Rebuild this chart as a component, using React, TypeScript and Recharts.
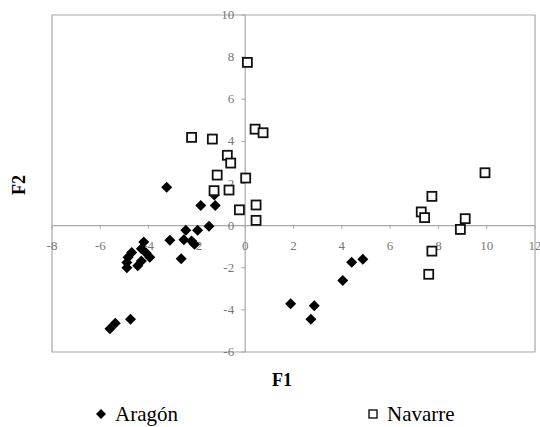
import { ScatterChart, Scatter, XAxis, YAxis, ReferenceLine, ReferenceArea, ReferenceDot } from 'recharts';

// F1 / F2 scores
const aragonF1 = [-3.25, -1.28, -1.84, -1.24, -1.5, -1.97, -2.46, -3.12, -2.54, -2.22, -2.1, -2.65,
  -4.2, -4.3, -4.7, -4.85, -4.9, -4.9, -4.45, -4.3, -3.95, -4.1,
  -5.6, -5.38, -4.75,
  1.88, 2.86, 2.72, 4.04, 4.41, 4.87];
const aragonF2 = [1.82, 1.45, 0.96, 0.96, -0.03, -0.22, -0.22, -0.7, -0.67, -0.73, -0.88, -1.57,
  -0.78, -1.1, -1.28, -1.5, -1.75, -2.0, -1.9, -1.68, -1.5, -1.3,
  -4.9, -4.64, -4.44,
  -3.71, -3.8, -4.44, -2.6, -1.74, -1.6];

const navarreF1 = [0.09, 0.41, 0.74, -2.22, -1.36, -0.74, -0.6, -1.16, 0.02, -1.29, -0.67, 0.45, -0.24, 0.45,
  9.93, 7.73, 7.29, 7.43, 9.11, 8.91, 7.73, 7.6];
const navarreF2 = [7.75, 4.58, 4.41, 4.19, 4.11, 3.34, 2.97, 2.4, 2.26, 1.66, 1.69, 0.98, 0.75, 0.25,
  2.51, 1.39, 0.65, 0.38, 0.33, -0.18, -1.21, -2.31];

const xTicks = [-8, -6, -4, -2, 0, 2, 4, 6, 8, 10, 12];
const yTicks = [-6, -4, -2, 0, 2, 4, 6, 8, 10];

const aragon = aragonF1.map((x, i) => ({ x, y: aragonF2[i] }));
const navarre = navarreF1.map((x, i) => ({ x, y: navarreF2[i] }));

const serif = 'Liberation Serif, serif';
const axisGray = '#a8a8a8';
const labelGray = '#777';

const Diamond = ({ cx, cy }: any) => (
  <polygon points={`${cx},${cy - 5.5} ${cx + 5.5},${cy} ${cx},${cy + 5.5} ${cx - 5.5},${cy}`} fill="#000" />
);

const Square = ({ cx, cy }: any) => (
  <rect x={cx - 4.5} y={cy - 4.5} width={9} height={9} fill="#fff" stroke="#111" strokeWidth={1.8} />
);

const XTick = (value: number) => ({ cx, cy }: any) => (
  <g>
    <line x1={cx} y1={cy} x2={cx} y2={cy + 3} stroke={axisGray} />
    <text x={cx} y={cy + 24} textAnchor="middle" style={{ fontFamily: serif, fontSize: 13, fill: labelGray }}>{value}</text>
  </g>
);

const YTick = (value: number) => ({ cx, cy }: any) => (
  <g>
    <line x1={cx - 4} y1={cy} x2={cx} y2={cy} stroke={axisGray} />
    <text x={cx - 11} y={cy + 4} textAnchor="end" style={{ fontFamily: serif, fontSize: 13, fill: labelGray }}>{value}</text>
  </g>
);

export default function App() {
  return (
    <div style={{ position: 'absolute', left: 0, top: 0, width: 540, height: 427, background: '#fff', fontFamily: serif }}>
      <ScatterChart width={540} height={427} margin={{ top: 15, right: 5, bottom: 75, left: 52 }}>
        <XAxis type="number" dataKey="x" domain={[-8, 12]} ticks={xTicks} hide />
        <YAxis type="number" dataKey="y" domain={[-6, 10]} ticks={yTicks} hide />
        <ReferenceArea x1={-8} x2={12} y1={-6} y2={10} fill="none" stroke={axisGray} strokeWidth={1.2} />
        <ReferenceLine x={0} stroke={axisGray} strokeWidth={1.2} />
        <ReferenceLine y={0} stroke={axisGray} strokeWidth={1.2} />
        {xTicks.map((t) => (
          <ReferenceDot key={'x' + t} x={t} y={0} r={0} shape={XTick(t)} ifOverflow="visible" />
        ))}
        {yTicks.map((t) => (
          <ReferenceDot key={'y' + t} x={0} y={t} r={0} shape={YTick(t)} ifOverflow="visible" />
        ))}
        <Scatter name="Aragón" data={aragon} shape={<Diamond />} isAnimationActive={false} />
        <Scatter name="Navarre" data={navarre} shape={<Square />} isAnimationActive={false} />
      </ScatterChart>

      {/* axis titles */}
      <div style={{ position: 'absolute', left: 272, top: 370, fontFamily: serif, fontSize: 18, fontWeight: 'bold' }}>F1</div>
      <div style={{ position: 'absolute', left: 4, top: 170, width: 30, height: 30, fontFamily: serif, fontSize: 18, fontWeight: 'bold', transform: 'rotate(-90deg)', textAlign: 'center', lineHeight: '30px' }}>F2</div>

      {/* legend */}
      <div style={{ position: 'absolute', left: 95, top: 402, fontFamily: serif, fontSize: 21, display: 'flex', alignItems: 'center' }}>
        <svg width={14} height={14} style={{ marginRight: 6 }}>
          <polygon points="6,1 11,6 6,11 1,6" fill="#000" />
        </svg>
        Aragón
      </div>
      <div style={{ position: 'absolute', left: 367, top: 402, fontFamily: serif, fontSize: 21, display: 'flex', alignItems: 'center' }}>
        <svg width={14} height={14} style={{ marginRight: 6 }}>
          <rect x={2} y={2} width={8} height={8} fill="#fff" stroke="#111" strokeWidth={1.4} />
        </svg>
        Navarre
      </div>
    </div>
  );
}
